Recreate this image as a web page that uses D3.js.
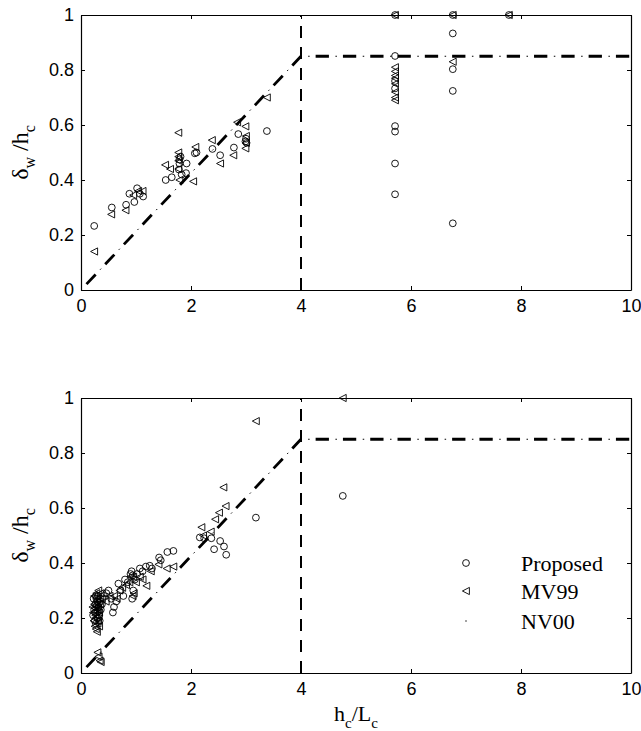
<!DOCTYPE html>
<html>
<head>
<meta charset="utf-8">
<script src="https://cdn.jsdelivr.net/npm/d3@7"></script>
<style>
  html, body { margin: 0; padding: 0; background: #fff; }
  svg { display: block; }
</style>
</head>
<body>
<svg id="chart" width="641" height="731"></svg>
<script>
// ---- data -------------------------------------------------------------
const xTicks = [0, 2, 4, 6, 8, 10];
const yTicks = [0, 0.2, 0.4, 0.6, 0.8, 1];
const yTickLabels = ["0", "0.2", "0.4", "0.6", "0.8", "1"];

// NV00 bound: linear rise to h_c/L_c = 4, then constant 0.85
const nv00Line = [[0.1, 0.02125], [4, 0.85], [10, 0.85]];
const limitX = 4;

// upper panel
const topProposed = [
  [0.24, 0.233], [0.56, 0.30], [0.82, 0.31], [0.88, 0.35], [0.97, 0.32], [1.02, 0.37],
  [1.07, 0.35], [1.13, 0.34], [1.54, 0.40], [1.65, 0.41], [1.78, 0.438], [1.79, 0.46],
  [1.79, 0.475], [1.81, 0.485], [1.83, 0.42], [1.91, 0.425], [1.92, 0.46], [2.07, 0.497],
  [2.10, 0.50], [2.39, 0.513], [2.53, 0.49], [2.78, 0.518], [2.86, 0.567], [2.99, 0.54],
  [3.00, 0.55], [3.01, 0.535], [3.38, 0.578],
  [5.71, 1.0], [5.71, 0.851], [5.71, 0.76], [5.71, 0.733], [5.71, 0.596], [5.71, 0.576],
  [5.71, 0.46], [5.71, 0.348],
  [6.76, 1.0], [6.76, 0.933], [6.76, 0.803], [6.76, 0.724], [6.76, 0.2425],
  [7.78, 1.0]
];
const topMV99 = [
  [0.24, 0.14], [0.55, 0.275], [0.81, 0.29], [0.95, 0.345], [1.04, 0.36], [1.12, 0.36],
  [1.53, 0.455], [1.62, 0.44], [1.77, 0.572], [1.77, 0.50], [1.77, 0.485], [1.77, 0.47],
  [1.77, 0.44], [1.79, 0.40], [2.04, 0.395], [2.08, 0.52], [2.38, 0.545], [2.53, 0.46],
  [2.77, 0.49], [2.84, 0.61], [2.99, 0.595], [2.99, 0.515], [3.00, 0.56], [3.00, 0.535],
  [3.38, 0.70],
  [5.71, 1.0], [5.71, 0.81], [5.71, 0.795], [5.71, 0.78], [5.71, 0.77], [5.71, 0.75],
  [5.71, 0.72], [5.71, 0.70], [5.71, 0.69],
  [6.76, 1.0], [6.76, 0.83], [7.78, 1.0]
];

// lower panel
const bottomProposed = [
  [0.22, 0.21], [0.24, 0.23], [0.26, 0.25], [0.28, 0.27], [0.30, 0.26], [0.32, 0.24],
  [0.25, 0.19], [0.29, 0.22], [0.33, 0.21], [0.35, 0.27], [0.27, 0.28], [0.31, 0.28],
  [0.23, 0.27], [0.36, 0.23], [0.38, 0.25], [0.30, 0.20], [0.34, 0.19], [0.27, 0.18],
  [0.29, 0.245], [0.31, 0.225], [0.26, 0.22], [0.33, 0.255],
  [0.42, 0.28], [0.46, 0.29], [0.50, 0.30], [0.55, 0.27], [0.60, 0.24], [0.64, 0.26],
  [0.58, 0.22], [0.68, 0.325], [0.72, 0.30], [0.77, 0.28], [0.80, 0.34], [0.85, 0.33],
  [0.90, 0.36], [0.92, 0.37], [0.94, 0.355], [0.93, 0.27], [0.95, 0.30], [0.98, 0.34],
  [1.02, 0.36], [1.07, 0.38], [1.12, 0.37], [1.18, 0.387], [1.25, 0.39], [1.29, 0.38],
  [1.42, 0.42], [1.45, 0.41], [1.57, 0.44], [1.68, 0.444],
  [2.16, 0.493], [2.24, 0.49], [2.37, 0.49], [2.42, 0.45], [2.53, 0.48], [2.60, 0.46],
  [2.64, 0.43], [3.18, 0.565], [4.76, 0.644]
];
const bottomMV99 = [
  [0.22, 0.22], [0.24, 0.25], [0.26, 0.21], [0.28, 0.24], [0.30, 0.23], [0.32, 0.26],
  [0.25, 0.17], [0.27, 0.16], [0.29, 0.15], [0.31, 0.19], [0.33, 0.22], [0.35, 0.25],
  [0.23, 0.19], [0.27, 0.20], [0.29, 0.27], [0.21, 0.24], [0.36, 0.29], [0.33, 0.17],
  [0.28, 0.29], [0.24, 0.28], [0.315, 0.30], [0.30, 0.18], [0.26, 0.235], [0.32, 0.205],
  [0.30, 0.075], [0.32, 0.06], [0.34, 0.045], [0.36, 0.04],
  [0.38, 0.27], [0.45, 0.26], [0.52, 0.28], [0.60, 0.28], [0.65, 0.27], [0.70, 0.30],
  [0.75, 0.31], [0.82, 0.32], [0.88, 0.33], [0.90, 0.35], [0.95, 0.35], [0.96, 0.29],
  [0.94, 0.28], [1.00, 0.33], [1.07, 0.35], [1.12, 0.34], [1.19, 0.317], [1.27, 0.37],
  [1.41, 0.395], [1.56, 0.38], [1.68, 0.387],
  [2.19, 0.53], [2.22, 0.50], [2.36, 0.514], [2.44, 0.559], [2.51, 0.583], [2.63, 0.607],
  [2.59, 0.675], [3.18, 0.916], [4.76, 1.0]
];

const legendItems = ["Proposed", "MV99", "NV00"];

// ---- drawing ----------------------------------------------------------
const svg = d3.select("#chart");
svg.append("rect").attr("width", 641).attr("height", 731).attr("fill", "#fff");

const plotLeft = 81, plotRight = 631;
const panels = [
  { top: 15, bottom: 290, proposed: topProposed, mv99: topMV99, legend: false, xTitle: false },
  { top: 398, bottom: 673, proposed: bottomProposed, mv99: bottomMV99, legend: true, xTitle: true }
];

const tickFont = "'Liberation Sans', Arial, Helvetica, sans-serif";
const serif = "'Liberation Serif', 'Times New Roman', Times, serif";

const triPath = "M-3.6,0L3.4,-3.6L3.4,3.6Z";

function drawPanel(p) {
  const x = d3.scaleLinear().domain([0, 10]).range([plotLeft, plotRight]);
  const y = d3.scaleLinear().domain([0, 1]).range([p.bottom, p.top]);
  const g = svg.append("g");

  // axes with inward ticks on all four sides
  const axB = d3.axisBottom(x).tickValues(xTicks).tickFormat(d3.format("d"))
    .tickSizeInner(-4).tickSizeOuter(0).tickPadding(9);
  const axT = d3.axisTop(x).tickValues(xTicks).tickFormat("")
    .tickSizeInner(-4).tickSizeOuter(0);
  const axL = d3.axisLeft(y).tickValues(yTicks).tickFormat((d, i) => yTickLabels[i])
    .tickSizeInner(-4).tickSizeOuter(0).tickPadding(7);
  const axR = d3.axisRight(y).tickValues(yTicks).tickFormat("")
    .tickSizeInner(-4).tickSizeOuter(0);

  const gb = g.append("g").attr("transform", `translate(0,${p.bottom})`).call(axB);
  const gt = g.append("g").attr("transform", `translate(0,${p.top})`).call(axT);
  const gl = g.append("g").attr("transform", `translate(${plotLeft},0)`).call(axL);
  const gr = g.append("g").attr("transform", `translate(${plotRight},0)`).call(axR);
  [gb, gt, gl, gr].forEach(a => {
    a.select(".domain").attr("stroke", "#000").attr("stroke-width", 1.2);
    a.selectAll(".tick line").attr("stroke", "#000").attr("stroke-width", 1);
    a.selectAll(".tick text").attr("fill", "#000")
      .style("font-family", tickFont).style("font-size", "18px");
  });

  // vertical dashed limit
  g.append("line")
    .attr("x1", x(limitX)).attr("x2", x(limitX))
    .attr("y1", y(0)).attr("y2", y(1))
    .attr("stroke", "#000").attr("stroke-width", 2)
    .attr("stroke-dasharray", "12,9");

  // NV00 dash-dot bound: heavy dashes plus thin dots
  const line = d3.line().x(d => x(d[0])).y(d => y(d[1]));
  g.append("path").attr("d", line(nv00Line))
    .attr("fill", "none").attr("stroke", "#000").attr("stroke-width", 2.8)
    .attr("stroke-dasharray", "13.3,14");
  g.append("path").attr("d", line(nv00Line))
    .attr("fill", "none").attr("stroke", "#000").attr("stroke-width", 1)
    .attr("stroke-dasharray", "0,19.8,1.5,6");

  // markers
  g.append("g").selectAll("circle").data(p.proposed).join("circle")
    .attr("cx", d => x(d[0])).attr("cy", d => y(d[1])).attr("r", 3.4)
    .attr("fill", "none").attr("stroke", "#000").attr("stroke-width", 0.9);
  g.append("g").selectAll("path").data(p.mv99).join("path")
    .attr("d", triPath)
    .attr("transform", d => `translate(${x(d[0])},${y(d[1])})`)
    .attr("fill", "none").attr("stroke", "#000").attr("stroke-width", 0.9);

  // y title: δ_w /h_c
  const cy = (p.top + p.bottom) / 2;
  const yt = g.append("text")
    .attr("transform", `translate(28,${cy}) rotate(-90)`)
    .attr("text-anchor", "middle")
    .style("font-family", serif).style("font-size", "24px").attr("fill", "#000");
  yt.append("tspan").text("δ");
  yt.append("tspan").attr("dy", 7).style("font-size", "16px").text("w");
  yt.append("tspan").attr("dy", -7).text(" /h");
  yt.append("tspan").attr("dy", 7).style("font-size", "16px").text("c");

  if (p.xTitle) {
    const xt = g.append("text")
      .attr("x", (plotLeft + plotRight) / 2).attr("y", 721)
      .attr("text-anchor", "middle")
      .style("font-family", serif).style("font-size", "22px").attr("fill", "#000");
    xt.append("tspan").text("h");
    xt.append("tspan").attr("dy", 7).style("font-size", "15px").text("c");
    xt.append("tspan").attr("dy", -7).text("/L");
    xt.append("tspan").attr("dy", 7).style("font-size", "15px").text("c");
  }

  if (p.legend) {
    const lg = g.append("g");
    const rowsY = [563, 591, 621];
    const mx = 466, tx = 521;
    lg.append("circle").attr("cx", mx).attr("cy", rowsY[0]).attr("r", 3.4)
      .attr("fill", "none").attr("stroke", "#000").attr("stroke-width", 0.9);
    lg.append("path").attr("d", triPath).attr("transform", `translate(${mx},${rowsY[1]})`)
      .attr("fill", "none").attr("stroke", "#000").attr("stroke-width", 0.9);
    lg.append("rect").attr("x", mx - 0.6).attr("y", rowsY[2] - 0.6)
      .attr("width", 1.2).attr("height", 1.2).attr("fill", "#000");
    legendItems.forEach((t, i) => {
      lg.append("text").attr("x", tx).attr("y", rowsY[i] + 7.5)
        .style("font-family", serif).style("font-size", "22px").attr("fill", "#000")
        .text(t);
    });
  }
}

panels.forEach(drawPanel);
</script>
</body>
</html>
